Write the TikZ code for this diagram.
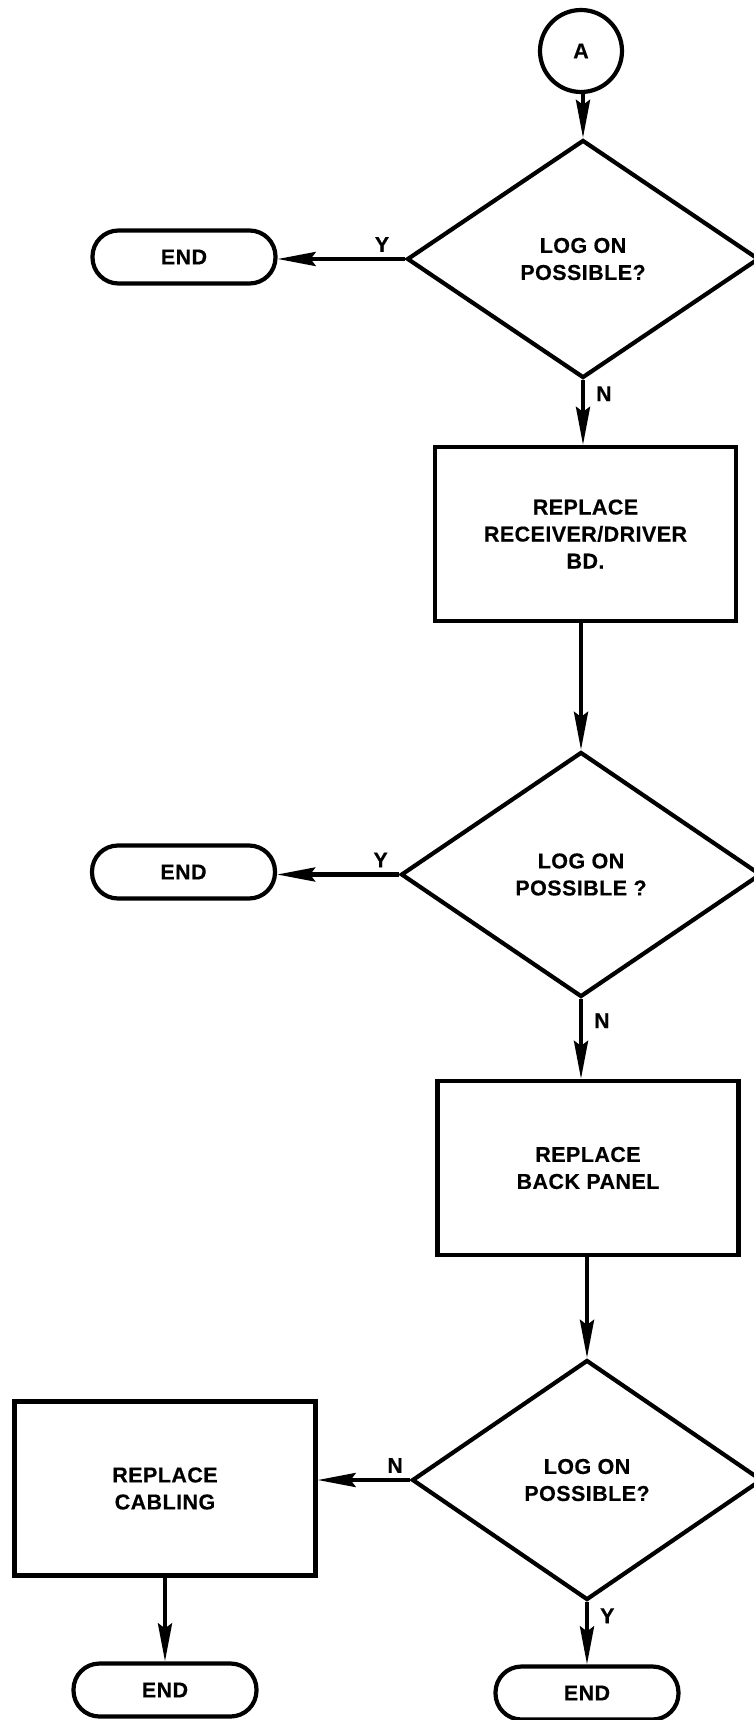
\documentclass[tikz,border=0pt]{standalone}
\usepackage{fontspec}
\setmainfont{Liberation Sans}[BoldFeatures={LetterSpace=2,FakeBold=0.4}]
\usetikzlibrary{arrows.meta,shapes.geometric}
\begin{document}
\begin{tikzpicture}[x=1pt,y=-1pt,
  every node/.style={font=\fontsize{21.5}{27}\selectfont\bfseries, align=center, line width=4.2pt},
  dec/.style={diamond, draw, inner sep=0pt},
  proc/.style={rectangle, draw, minimum width=301pt, minimum height=174pt},
  term/.style={rectangle, draw, rounded corners=26pt, minimum width=183pt, minimum height=53pt},
  conn/.style={circle, draw, minimum size=82pt, inner sep=0pt},
  arr/.style={line width=4.2pt, -{Stealth[length=38pt,width=14pt,inset=5pt]}},
  lab/.style={inner sep=0pt}
]
\useasboundingbox (0,0) rectangle (753,1720);

\node[conn] (a) at (581,51) {A};
\node[dec, minimum width=352pt, minimum height=238pt] (d1) at (583,259) {LOG ON\\POSSIBLE?};
\node[term] (e1) at (184,257) {END};
\node[proc] (b1) at (585.5,534) {REPLACE\\RECEIVER/DRIVER\\BD.};
\node[dec, minimum width=360pt, minimum height=245pt] (d2) at (581,874.5) {LOG ON\\POSSIBLE ?};
\node[term] (e2) at (183.5,872) {END};
\node[proc] (b2) at (588,1168) {REPLACE\\BACK PANEL};
\node[dec, minimum width=350pt, minimum height=240pt] (d3) at (587,1480) {LOG ON\\POSSIBLE?};
\node[proc] (b3) at (165,1488.5) {REPLACE\\CABLING};
\node[term] (e3) at (165,1690) {END};
\node[term] (e4) at (587,1693) {END};

\draw[arr] (a.south -| d1.north) -- (d1.north);
\draw[arr] (d1.west) -- node[lab,pos=0.18,above=5pt]{Y} (d1.west -| e1.east);
\draw[arr] (d1.south) -- node[lab,pos=0.21,right=11pt]{N} (d1.south |- b1.north);
\draw[arr] (b1.south -| d2.north) -- (d2.north);
\draw[arr] (d2.west) -- node[lab,pos=0.15,above=5pt]{Y} (d2.west -| e2.east);
\draw[arr] (d2.south) -- node[lab,pos=0.27,right=11pt]{N} (d2.south |- b2.north);
\draw[arr] (b2.south -| d3.north) -- (d3.north);
\draw[arr] (d3.west) -- node[lab,pos=0.16,above=5pt]{N} (d3.west -| b3.east);
\draw[arr] (b3.south) -- (b3.south |- e3.north);
\draw[arr] (d3.south) -- node[lab,pos=0.22,right=11pt]{Y} (d3.south |- e4.north);
\end{tikzpicture}
\end{document}
